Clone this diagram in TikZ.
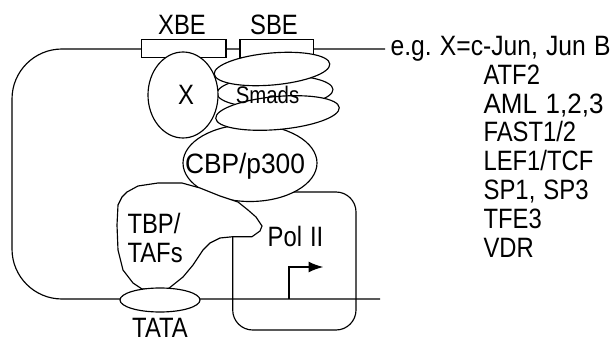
\documentclass[tikz,border=0pt]{standalone}
\usepackage{fontspec}
\usepackage{graphicx}
\setmainfont{Liberation Sans}[FakeStretch=0.85,WordSpace=1.2]
\usetikzlibrary{arrows.meta}
\newcommand{\fitw}[2]{\resizebox{#1}{\height}{#2}}
\begin{document}
\frenchspacing
\begin{tikzpicture}[x=1pt,y=-1pt,line width=1.15pt,
  big/.style={inner sep=0pt,anchor=base,font=\fontsize{28}{30}\selectfont},
  item/.style={inner sep=0pt,anchor=base west,font=\fontsize{28}{30}\selectfont},
  part/.style={draw,fill=white}]
\useasboundingbox (0,0) rectangle (613,342);

% DNA strand
\draw[rounded corners=50pt] (385,49) -- (12,49) -- (12,299) -- (380,299);

% binding elements
\draw[part] (141.7,39.3) rectangle (226,57.7);
\draw[part] (240,39.3) rectangle (313.3,57.7);
\node[big] (xbe) at (182,35) {XBE};
\node[big] (sbe) at (274,35) {SBE};

% Pol II box and start arrow
\draw[rounded corners=20pt] (232.7,192) rectangle (356,330);
\draw[line width=1.8pt,-{Latex[length=15pt,width=11pt]}] (289,299) |- (323.5,267);

% CBP/p300
\draw[part] (250,163) ellipse [x radius=67pt, y radius=38.5pt];

% TBP/TAFs blob
\draw[part] (127,192) -- (138,186) -- (158,183) -- (182,183) -- (200,188) -- (220,196)
  -- (238,202) -- (248,210) -- (256,217) -- (262,226) -- (260,231) -- (252,236.7)
  -- (233,236.7) -- (220,238) -- (210,243) -- (203,250) -- (193,265) -- (183,277)
  -- (168,289) -- (142,289) -- (133,283) -- (123,270) -- (118,250) -- (117,225)
  -- (118,205) -- (122,197) -- cycle;

% Smads
\draw[part,rotate around={2:(275,91.5)}] (275,91.5) ellipse [x radius=58pt, y radius=16pt];
\draw[part,rotate around={5:(277.5,113)}] (277.5,113) ellipse [x radius=62pt, y radius=16.5pt];
\draw[part,rotate around={5:(272,69)}] (272,69) ellipse [x radius=58pt, y radius=16pt];

% X
\draw[part] (183,95) ellipse [x radius=35pt, y radius=43pt];

% TATA
\draw[part] (160,300) ellipse [x radius=40pt, y radius=12pt];

% labels
\node[big] (xlbl) at (186,105) {X};
\node[inner sep=0pt,anchor=base,font=\fontsize{24}{26}\selectfont] (smads) at (267.5,104) {Smads};
\node[big] (cbp) at (245,173) {\fitw{120pt}{CBP/p300}};
\node[item] (tbp) at (127,233) {TBP/};
\node[item] (tafs) at (127,262) {TAFs};
\node[big] (pol) at (295.5,246.7) {Pol II};
\node[big] (tata) at (160,337) {TATA};

% list
\node[item] (eg) at (390,56) {\fitw{220pt}{e.g. X=c-Jun, Jun B}};
\node[item] (l1) at (483,84.7) {ATF2};
\node[item] (l2) at (483,113.4) {\fitw{120pt}{AML 1,2,3}};
\node[item] (l3) at (483,142) {FAST1/2};
\node[item] (l4) at (483,170.8) {LEF1/TCF};
\node[item] (l5) at (483,199.5) {\fitw{105pt}{SP1, SP3}};
\node[item] (l6) at (483,228) {TFE3};
\node[item] (l7) at (483,257) {VDR};
\end{tikzpicture}
\end{document}
